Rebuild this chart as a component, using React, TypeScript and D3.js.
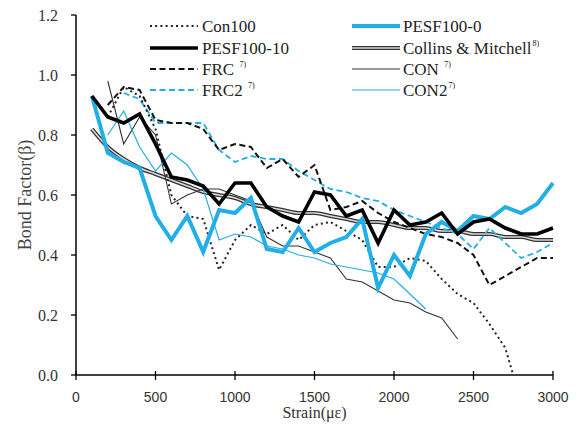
import React from "react";
import * as d3 from "d3";

const strain = [100, 200, 300, 400, 500, 600, 700, 800, 900, 1000, 1100, 1200, 1300, 1400, 1500, 1600, 1700, 1800, 1900, 2000, 2100, 2200, 2300, 2400, 2500, 2600, 2700, 2800, 2900, 3000];

const pesf100_10 = [0.93, 0.86, 0.84, 0.87, 0.77, 0.66, 0.65, 0.63, 0.57, 0.64, 0.64, 0.56, 0.53, 0.51, 0.61, 0.60, 0.53, 0.55, 0.44, 0.55, 0.50, 0.51, 0.54, 0.47, 0.51, 0.52, 0.49, 0.47, 0.47, 0.49];
const pesf100_0 = [0.93, 0.74, 0.71, 0.69, 0.53, 0.45, 0.53, 0.41, 0.55, 0.54, 0.59, 0.42, 0.41, 0.49, 0.41, 0.44, 0.46, 0.52, 0.29, 0.40, 0.33, 0.47, 0.51, 0.48, 0.53, 0.52, 0.56, 0.54, 0.57, 0.64];
const collins = [0.82, 0.76, 0.72, 0.69, 0.67, 0.65, 0.63, 0.61, 0.60, 0.59, 0.57, 0.56, 0.55, 0.54, 0.54, 0.53, 0.52, 0.51, 0.51, 0.50, 0.49, 0.49, 0.48, 0.48, 0.47, 0.47, 0.46, 0.46, 0.45, 0.45];

const con100Strain = [200, 300, 400, 500, 600, 700, 800, 900, 1000, 1100, 1200, 1300, 1400, 1500, 1600, 1700, 1800, 1900, 2000, 2100, 2200, 2300, 2400, 2500, 2600, 2700, 2750];
const con100 = [0.86, 0.96, 0.93, 0.82, 0.60, 0.53, 0.52, 0.35, 0.45, 0.50, 0.47, 0.50, 0.45, 0.50, 0.51, 0.48, 0.45, 0.36, 0.36, 0.39, 0.38, 0.32, 0.27, 0.24, 0.17, 0.09, 0.0];

const frcStrain = strain.slice(1);
const frc = [0.90, 0.96, 0.95, 0.85, 0.84, 0.84, 0.82, 0.75, 0.77, 0.76, 0.69, 0.72, 0.66, 0.70, 0.55, 0.56, 0.58, 0.54, 0.51, 0.49, 0.47, 0.46, 0.44, 0.40, 0.30, 0.33, 0.36, 0.39, 0.39];

const frc2Strain = strain.slice(2);
const frc2 = [0.94, 0.92, 0.84, 0.84, 0.84, 0.84, 0.75, 0.71, 0.73, 0.72, 0.72, 0.68, 0.65, 0.62, 0.61, 0.59, 0.58, 0.55, 0.53, 0.51, 0.49, 0.47, 0.42, 0.49, 0.44, 0.39, 0.41, 0.44];

const conStrain = strain.slice(1, 24);
const con = [0.98, 0.77, 0.86, 0.80, 0.57, 0.60, 0.62, 0.62, 0.60, 0.58, 0.46, 0.43, 0.43, 0.41, 0.39, 0.32, 0.31, 0.28, 0.25, 0.24, 0.21, 0.19, 0.12];

const con2Strain = strain.slice(1, 22);
const con2 = [0.80, 0.88, 0.76, 0.68, 0.74, 0.70, 0.62, 0.45, 0.47, 0.46, 0.43, 0.42, 0.40, 0.39, 0.37, 0.36, 0.35, 0.34, 0.32, 0.27, 0.22];

const xTicks = [0, 500, 1000, 1500, 2000, 2500, 3000];
const yTicks = [0, 0.2, 0.4, 0.6, 0.8, 1.0, 1.2];

const BLUE = "#22aee6";
const SERIF = "'Liberation Serif', 'Times New Roman', serif";
const SANS = "'Liberation Sans', Arial, sans-serif";

type Style = { stroke: string; width: number; dash?: string; double?: boolean; cap?: string };

const styles: Record<string, Style> = {
  con100: { stroke: "#222", width: 2, dash: "2,3.2" },
  pesf10: { stroke: "#000", width: 3.6 },
  frc: { stroke: "#111", width: 2, dash: "6,3.5" },
  frc2: { stroke: BLUE, width: 1.8, dash: "6,3.5" },
  pesf0: { stroke: BLUE, width: 4 },
  collins: { stroke: "#333", width: 4.2, double: true },
  con: { stroke: "#333", width: 1.1 },
  con2: { stroke: BLUE, width: 1.2 },
};

export default function App() {
  const W = 587, H = 432;
  const x = d3.scaleLinear().domain([0, 3000]).range([76, 553]);
  const y = d3.scaleLinear().domain([0, 1.2]).range([375, 15]);

  const mk = (xs: number[], ys: number[], curve: any = d3.curveLinear) =>
    d3.line<number>().x((_, i) => x(xs[i])).y((v) => y(v)).curve(curve)(ys) || "";

  const series: { key: string; d: string }[] = [
    { key: "collins", d: mk(strain, collins, d3.curveMonotoneX) },
    { key: "con", d: mk(conStrain, con) },
    { key: "con2", d: mk(con2Strain, con2) },
    { key: "frc2", d: mk(frc2Strain, frc2) },
    { key: "frc", d: mk(frcStrain, frc) },
    { key: "con100", d: mk(con100Strain, con100) },
    { key: "pesf0", d: mk(strain, pesf100_0) },
    { key: "pesf10", d: mk(strain, pesf100_10) },
  ];

  const renderPath = (key: string, d: string, k: string) => {
    const s = styles[key];
    if (s.double) {
      return (
        <g key={k}>
          <path d={d} fill="none" stroke={s.stroke} strokeWidth={s.width} strokeLinejoin="round" />
          <path d={d} fill="none" stroke="#d8d8d8" strokeWidth={1.6} strokeLinejoin="round" />
        </g>
      );
    }
    return (
      <path key={k} d={d} fill="none" stroke={s.stroke} strokeWidth={s.width}
        strokeDasharray={s.dash} strokeLinejoin="miter" strokeLinecap="butt" />
    );
  };

  const legendCol1 = [
    { key: "con100", label: "Con100", sup: "" },
    { key: "pesf10", label: "PESF100-10", sup: "" },
    { key: "frc", label: "FRC ", sup: "7)" },
    { key: "frc2", label: "FRC2 ", sup: "7)" },
  ];
  const legendCol2 = [
    { key: "pesf0", label: "PESF100-0", sup: "" },
    { key: "collins", label: "Collins & Mitchell", sup: "8)" },
    { key: "con", label: "CON ", sup: "7)" },
    { key: "con2", label: "CON2", sup: "7)" },
  ];
  const rowsY = [26, 48, 69, 90];

  const legendItems = (items: typeof legendCol1, x0: number, x1: number, tx: number) =>
    items.map((it, i) => {
      const yy = rowsY[i];
      const d = `M${x0},${yy}L${x1},${yy}`;
      return (
        <g key={it.key + "lg"}>
          {renderPath(it.key, d, it.key + "lp")}
          <text x={tx} y={yy} dy="0.35em" fontFamily={SERIF} fontSize={17} fill="#222">
            {it.label}
            {it.sup && <tspan fontSize={8} dy="-0.95em" dx="1">{it.sup}</tspan>}
          </text>
        </g>
      );
    });

  return (
    <svg width={W} height={H} style={{ position: "absolute", left: 0, top: 0, background: "#fff" }}>
      <rect x={0} y={0} width={W} height={H} fill="#fff" />
      {/* axes */}
      <line x1={76} x2={76} y1={y(1.2)} y2={y(0)} stroke="#000" strokeWidth={1.5} />
      <line x1={76} x2={x(3000)} y1={y(0)} y2={y(0)} stroke="#000" strokeWidth={1.5} />
      {yTicks.map((t) => (
        <g key={"yt" + t}>
          <line x1={71} x2={76} y1={y(t)} y2={y(t)} stroke="#000" strokeWidth={1.3} />
          <text x={58} y={y(t)} dy="0.35em" textAnchor="end" fontFamily={SERIF} fontSize={16} fill="#333">
            {t.toFixed(1)}
          </text>
        </g>
      ))}
      {xTicks.map((t) => (
        <g key={"xt" + t}>
          <line x1={x(t)} x2={x(t)} y1={y(0) - 4} y2={y(0) + 5} stroke="#000" strokeWidth={1.3} />
          <text x={x(t)} y={397} dy="0.35em" textAnchor="middle" fontFamily={SANS} fontSize={14} fill="#333">
            {t}
          </text>
        </g>
      ))}
      <text x={x(1500)} y={412} dy="0.35em" textAnchor="middle" fontFamily={SERIF} fontSize={16} fill="#333">
        Strain(με)
      </text>
      <text transform={`translate(25,${y(0.6)}) rotate(-90)`} dy="0.35em" textAnchor="middle" fontFamily={SERIF} fontSize={18} fill="#444">
        Bond Factor(β)
      </text>
      {/* series */}
      {series.map((s) => renderPath(s.key, s.d, s.key))}
      {/* legend */}
      {legendItems(legendCol1, 150, 198, 202)}
      {legendItems(legendCol2, 352, 400, 403)}
    </svg>
  );
}
